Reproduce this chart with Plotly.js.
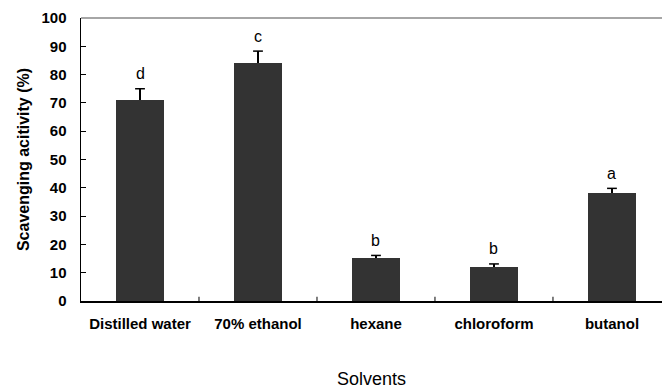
<!DOCTYPE html>
<html><head><meta charset="utf-8">
<script src="https://cdn.plot.ly/plotly-3.0.1.min.js"></script>
<style>html,body{margin:0;padding:0;background:#fff;}#chart{width:662px;height:389px;}</style>
</head><body><div id="chart"></div>
<script>
var categories = ["Distilled water", "70% ethanol", "hexane", "chloroform", "butanol"];
var values = [71.1, 84.1, 15.3, 12.1, 38.0];
var errors = [3.9, 4.2, 0.8, 1.0, 1.8];
var letters = ["d", "c", "b", "b", "a"];
var yTicks = [0, 10, 20, 30, 40, 50, 60, 70, 80, 90, 100];

var idx = categories.map(function(c, i){ return i; });
var tops = values.map(function(v, i){ return v + errors[i]; });

var bars = {
  type: "bar",
  x: idx,
  y: values,
  width: 0.4,
  marker: {color: "#333333", line: {width: 0}},
  error_y: {type: "data", array: errors, arrayminus: errors.map(function(){return 0;}), symmetric: false, color: "#000", thickness: 1.5, width: 0},
  hoverinfo: "none"
};
var caps = {
  type: "scatter", mode: "markers",
  x: idx, y: tops,
  marker: {symbol: "line-ew", size: 7, line: {color: "#000", width: 1.5}},
  hoverinfo: "none"
};

var annotations = letters.map(function(l, i){
  return {x: i, y: tops[i], xref: "x", yref: "y", text: l, showarrow: false,
    yshift: 15, font: {family: "Liberation Sans, Arial, sans-serif", size: 16, color: "#000"}};
});

var layout = {
  width: 662, height: 389,
  margin: {l: 81, r: 0, t: 18, b: 88},
  paper_bgcolor: "#fff", plot_bgcolor: "#fff",
  showlegend: false,
  bargap: 0,
  xaxis: {
    range: [-0.5, 4.424],
    tickvals: idx, ticktext: categories,
    showline: true, linecolor: "#000", linewidth: 1.5,
    ticks: "", showgrid: false, zeroline: false,
    tickfont: {family: "Liberation Sans, Arial, sans-serif", size: 15, color: "#000", weight: "bold"},
    ticklabelstandoff: 8,
    title: {text: "Solvents", font: {family: "Liberation Sans, Arial, sans-serif", size: 18, color: "#000"}, standoff: 43}
  },
  yaxis: {
    range: [0, 100],
    tickvals: yTicks,
    showline: true, linecolor: "#000", linewidth: 1.5,
    ticks: "inside", ticklen: 5, tickcolor: "#000", tickwidth: 1,
    showgrid: false, zeroline: false,
    tickfont: {family: "Liberation Sans, Arial, sans-serif", size: 15, color: "#000", weight: "bold"},
    ticklabelstandoff: 10,
    title: {text: "Scavenging acitivity (%)", font: {family: "Liberation Sans, Arial, sans-serif", size: 16, color: "#000", weight: "bold"}, standoff: 8}
  },
  shapes: [
    {type: "line", xref: "paper", yref: "paper", x0: 0, x1: 1, y0: 1, y1: 1, line: {color: "#888", width: 1.5}}
  ].concat([0.5,1.5,2.5,3.5].map(function(v){
    return {type: "line", xref: "x", yref: "paper", x0: v, x1: v, y0: 0, y1: 0.015, line: {color: "#000", width: 1}};
  })),
  annotations: annotations
};

Plotly.newPlot("chart", [bars, caps], layout, {staticPlot: true, displayModeBar: false});
</script>
</body></html>
